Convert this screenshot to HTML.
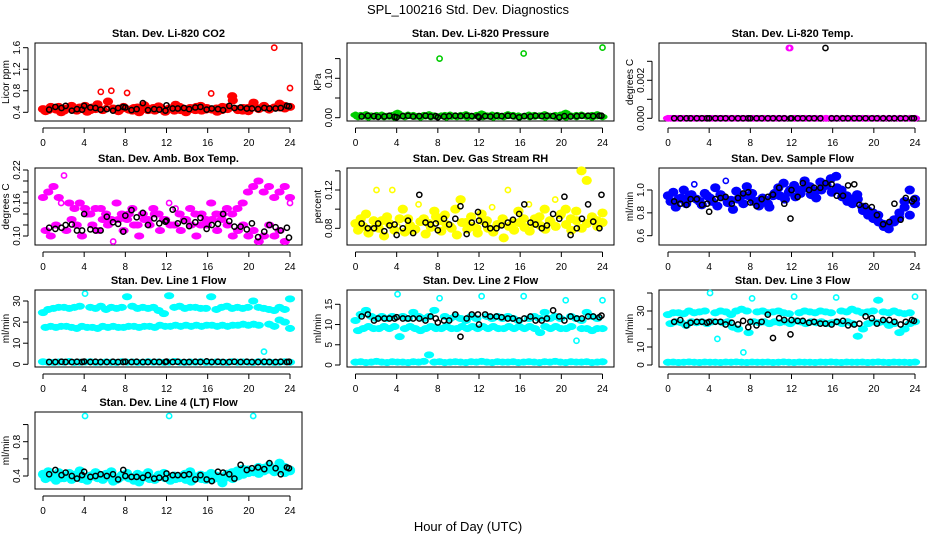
<!DOCTYPE html>
<html><head><meta charset="utf-8"><title>SPL_100216 Std. Dev. Diagnostics</title>
<style>
html,body{margin:0;padding:0;background:#fff;}
svg{display:block;font-family:"Liberation Sans",sans-serif;}
</style></head>
<body>
<svg id="chart" width="936" height="540" viewBox="0 0 936 540">
<text x="468" y="14" text-anchor="middle" font-size="13">SPL_100216  Std. Dev. Diagnostics</text>
<text x="468" y="531" text-anchor="middle" font-size="13">Hour of Day (UTC)</text>
</svg>
<script>
const xTicks=[0,4,8,12,16,20,24];
const blackHours=[0.6,1.2,1.8,2.2,2.8,3.3,3.8,4.0,4.6,5.1,5.6,6.2,6.8,7.3,7.8,8.0,8.6,9.1,9.7,10.2,10.8,11.3,11.9,12.0,12.6,13.1,13.7,14.2,14.8,15.3,15.9,16.4,17.0,17.5,18.1,18.6,19.2,19.8,20.3,20.9,21.5,22.0,22.6,23.1,23.7,23.9];

const co2A=[0.46,0.44,0.48,0.50,0.43,0.47,0.45,0.49,0.52,0.44,0.46,0.78,0.48,0.80,0.45,0.47,0.76,0.43,0.49,0.46,0.44,0.48,0.51,0.45,0.47,0.43,0.50,0.46,0.48,0.44,0.52,0.45,0.75,0.47,0.44,0.49,0.70,0.46,0.43,0.48,0.55,0.47,0.50,0.46,1.60,0.49,0.52,0.85];
const co2B=[0.42,0.50,0.45,0.40,0.47,0.52,0.43,0.46,0.41,0.49,0.55,0.44,0.60,0.47,0.42,0.50,0.45,0.48,0.40,0.53,0.46,0.43,0.49,0.41,0.47,0.54,0.44,0.40,0.46,0.50,0.43,0.48,0.45,0.41,0.50,0.46,0.62,0.44,0.48,0.42,0.58,0.46,0.52,0.45,0.49,0.56,0.47,0.50];
const co2K=[0.45,0.50,0.48,0.52,0.43,0.46,0.45,0.52,0.49,0.48,0.45,0.46,0.43,0.48,0.50,0.49,0.44,0.46,0.57,0.44,0.46,0.45,0.43,0.53,0.47,0.47,0.48,0.46,0.49,0.50,0.45,0.47,0.46,0.44,0.52,0.48,0.49,0.47,0.47,0.46,0.48,0.47,0.47,0.48,0.52,0.51];

const presA=[0.007,0.006,0.008,0.005,0.006,0.007,0.004,0.006,0.012,0.005,0.007,0.006,0.004,0.006,0.008,0.005,0.150,0.006,0.007,0.005,0.006,0.008,0.004,0.006,0.010,0.005,0.007,0.006,0.004,0.008,0.006,0.005,0.163,0.007,0.006,0.005,0.008,0.004,0.006,0.007,0.012,0.005,0.006,0.007,0.004,0.006,0.008,0.178];
const presB=[0.002,0.004,0.001,0.003,0.005,0.002,0.003,0.001,0.004,0.002,0.005,0.003,0.001,0.004,0.002,0.003,0.005,0.001,0.003,0.002,0.004,0.001,0.003,0.005,0.002,0.004,0.001,0.003,0.002,0.005,0.003,0.001,0.004,0.002,0.003,0.005,0.001,0.004,0.002,0.003,0.001,0.004,0.002,0.005,0.003,0.001,0.004,0.002];
const presK=[0.003,0.005,0.004,0.002,0.003,0.005,0.002,0.001,0.004,0.005,0.003,0.004,0.005,0.003,0.004,0.001,0.003,0.004,0.005,0.004,0.005,0.004,0.003,0.001,0.004,0.003,0.005,0.004,0.005,0.004,0.001,0.004,0.003,0.005,0.004,0.005,0.004,0.001,0.004,0.003,0.004,0.005,0.005,0.004,0.005,0.005];

const tempA=[0,0,0,0,0,0,0,0,0,0,0,0,0,0,0,0,0,0,0,0,0,0,0,0.0037,0,0,0,0,0,0,0,0,0,0,0,0,0,0,0,0,0,0,0,0,0,0,0,0];
const tempK=[0,0,0,0,0,0,0,0,0,0,0,0,0,0,0,0,0,0,0,0,0,0,0,0,0,0,0,0,0,0.0037,0,0,0,0,0,0,0,0,0,0,0,0,0,0,0,0];

const ambA=[0.17,0.18,0.19,0.17,0.21,0.16,0.15,0.16,0.15,0.14,0.15,0.15,0.14,0.13,0.16,0.14,0.13,0.15,0.12,0.14,0.13,0.15,0.14,0.13,0.16,0.12,0.14,0.13,0.15,0.14,0.12,0.13,0.16,0.14,0.13,0.15,0.14,0.15,0.16,0.18,0.19,0.20,0.18,0.19,0.17,0.18,0.19,0.17];
const ambB=[0.11,0.10,0.12,0.16,0.11,0.13,0.12,0.10,0.14,0.12,0.11,0.13,0.12,0.09,0.13,0.11,0.14,0.12,0.10,0.13,0.12,0.14,0.11,0.13,0.12,0.15,0.11,0.13,0.12,0.10,0.14,0.12,0.13,0.11,0.14,0.12,0.10,0.11,0.12,0.10,0.11,0.09,0.10,0.12,0.10,0.11,0.09,0.16];
const ambK=[0.115,0.113,0.115,0.12,0.121,0.11,0.11,0.14,0.112,0.11,0.11,0.135,0.125,0.122,0.108,0.137,0.147,0.134,0.142,0.12,0.132,0.123,0.126,0.128,0.148,0.123,0.127,0.118,0.125,0.133,0.113,0.12,0.122,0.14,0.127,0.117,0.117,0.112,0.123,0.098,0.108,0.12,0.116,0.11,0.115,0.097];

const rhA=[0.085,0.09,0.095,0.08,0.12,0.088,0.092,0.12,0.082,0.1,0.09,0.078,0.105,0.09,0.085,0.098,0.088,0.094,0.082,0.1,0.11,0.086,0.092,0.08,0.095,0.088,0.102,0.084,0.09,0.12,0.086,0.098,0.09,0.105,0.085,0.092,0.1,0.088,0.11,0.094,0.1,0.09,0.098,0.14,0.13,0.092,0.088,0.096];
const rhB=[0.078,0.082,0.075,0.088,0.08,0.072,0.085,0.078,0.09,0.076,0.083,0.079,0.087,0.074,0.081,0.092,0.077,0.084,0.08,0.073,0.086,0.079,0.082,0.075,0.088,0.08,0.076,0.084,0.07,0.082,0.078,0.086,0.081,0.077,0.09,0.083,0.079,0.087,0.082,0.095,0.084,0.078,0.088,0.08,0.085,0.09,0.082,0.086];
const rhK=[0.085,0.08,0.08,0.085,0.077,0.083,0.084,0.073,0.08,0.088,0.075,0.115,0.086,0.084,0.085,0.078,0.09,0.084,0.09,0.103,0.074,0.086,0.097,0.088,0.084,0.08,0.08,0.083,0.086,0.089,0.095,0.105,0.086,0.084,0.08,0.083,0.095,0.09,0.113,0.073,0.08,0.09,0.105,0.087,0.08,0.115];

const flowA=[0.95,0.98,0.92,1.0,0.94,1.05,0.9,0.97,0.93,1.02,0.96,1.08,0.91,0.99,0.95,1.03,0.97,0.9,0.93,0.88,0.95,1.02,1.06,0.98,1.04,1.0,1.08,1.03,0.99,1.07,1.05,1.1,1.12,1.0,0.95,0.92,0.96,0.85,0.82,0.8,0.78,0.7,0.66,0.72,0.76,0.9,1.0,0.92];
const flowB=[0.9,0.85,0.93,0.88,0.96,0.92,0.87,0.95,0.9,0.86,0.94,0.89,0.83,0.92,0.88,0.95,0.9,0.86,0.92,0.85,0.97,0.95,0.92,1.0,0.94,0.97,1.02,0.96,0.93,1.0,1.04,0.98,1.02,0.94,0.9,0.88,0.92,0.82,0.78,0.75,0.72,0.68,0.7,0.74,0.8,0.85,0.78,0.88];
const flowK=[0.9,0.88,0.87,0.92,0.92,0.87,0.88,0.81,0.92,0.93,0.94,0.88,0.93,0.97,0.98,0.89,0.86,0.92,0.94,0.96,1.02,0.88,0.75,1.0,0.94,1.06,1.0,1.02,1.02,1.06,1.05,0.95,0.95,1.04,1.05,0.87,0.86,0.85,0.78,0.7,0.72,0.88,0.74,0.93,0.9,0.92];

const l1A=[24.5,26,26.5,27,27,26.5,27,27.5,33.5,27,26.5,27.5,26,27,26.5,27,32,27.5,26.5,27,26.5,27,25.5,24,32.5,27,27.5,26.5,27,27,26.5,26.5,32,26,27,27.5,26.5,27,26.5,27,30,27,26.5,26,25.5,27,26,31];
const l1B=[17.5,18,17.5,18,18,17.5,17,18,17.5,17.5,17,18,17.5,18,17.5,17.5,18,18,17.5,18,18,17.5,18.5,18,18,18.5,18,18.5,18,18.5,18,18.5,18.5,18,18.5,18,18.5,18.5,19,18.5,19,18.5,6,19,18,21,20,17];
const l1C=[1.2,1,0.9,1.1,1,1.3,0.9,1,1.1,1.2,0.9,1,1.1,1,0.9,1.2,1,1.1,0.9,1,1.2,1,1.1,0.9,1,1.3,1,0.9,1.1,1,1.2,0.9,1,1.1,1,0.9,1.2,1,1.1,1,0.9,1.2,1,1.1,0.9,1,1.2,1];
const l1K=[1.1,1.1,1.2,1.1,1.1,1.2,1.1,1.3,1.1,1.2,1.1,1.1,1.2,1.1,1.1,1.2,1.1,1.2,1.1,1.1,1.2,1.1,1.1,1.3,1.1,1.2,1.1,1.1,1.2,1.1,1.4,1.1,1.2,1.1,1.1,1.2,1.1,1.2,1.1,1.1,1.2,1.1,1.1,1.2,1.1,1.2];

const l2A=[11,12.5,13.5,12,11.5,12,11.5,12,17.5,12,11.5,13,12,11.5,12,13.5,16.5,12,11.5,12,11.5,11,12,11.5,17,12,11.5,12,11.5,12,11.5,11,17,11.5,12,11.5,13,11.5,12,11.5,16,12,11.5,11,13,12,11.5,16];
const l2B=[8.5,9,9.5,9,9,9.5,9,9.5,7,9,9.5,9,8.5,9,9.5,9,9,9.5,9,9,9.5,9,9.5,9,9.5,9,9.5,9,9,9.5,9,9.5,9,9.5,9,8,9.5,9,9.5,9,9,9.5,6,9,9,8.5,9,9];
const l2C=[0.7,0.8,0.6,0.7,0.9,0.7,0.6,0.8,0.7,0.7,0.6,0.8,0.7,0.9,2.5,0.7,0.8,0.6,0.7,0.8,0.7,0.6,0.8,0.7,0.9,0.7,0.6,0.8,0.7,0.7,0.8,0.6,0.7,0.8,0.7,0.6,0.8,0.7,0.9,0.7,0.6,0.8,0.7,0.7,0.8,0.6,0.7,0.8];
const l2K=[12,12.5,11,11.5,11.5,11.5,11.5,11.8,11.5,11.5,11.5,11.5,11,12,11.5,10.5,11,11,12.5,7,11.5,12.5,12.5,10,12.5,12,12,11.8,11.5,11.5,11,11.5,12,11,11,11.5,13.5,12,11,12,11.5,11.5,12,12,11.8,12.2];

const l3A=[28,29,29,28.5,30,29,29.5,30,40,29,30,29.5,28,30,31,30,37,29.5,30,29,29.5,30,29,28.5,38,29,30,29.5,29,30,29.5,29,37.5,30,29.5,31,30,29,29.5,30,36,29.5,29,30,29,28.5,29,38];
const l3B=[23,24,23.5,22,24,23.5,24,23,24,14.5,23.5,24,21,20,7,18,24,23.5,24,23,24,23.5,24,23,24.5,24,23,24,23.5,24,23,23.5,24,23,24,23,16,20,23,24,23.5,24,22,23,18,20,23,24];
const l3C=[1.5,1.6,1.4,1.5,1.7,1.5,1.4,1.6,1.5,1.5,1.4,1.6,1.5,1.7,1.5,1.4,1.6,1.5,1.5,1.6,1.4,1.5,1.7,1.5,1.4,1.6,1.5,1.5,1.4,1.6,1.5,1.7,1.5,1.4,1.6,1.5,1.5,1.6,1.4,1.5,1.7,1.5,1.4,1.6,1.5,1.5,1.4,1.6];
const l3K=[24,25,22,23.5,24,24,23.5,24,24,24,22.5,23.5,22.5,24.5,21,24,22,24,28,15,26,25,17,25,24.5,24.5,23.5,24,23,23,22.5,24,24.5,22,22.5,23,27,26,23,25,25,24,22.5,24,25,24.5];

const l4A=[0.42,0.45,0.40,0.44,0.38,0.43,0.41,0.46,1.1,0.40,0.44,0.39,0.42,0.45,0.36,0.41,0.43,0.38,0.42,0.40,0.44,0.37,0.41,0.43,1.1,0.40,0.38,0.42,0.45,0.39,0.41,0.36,0.43,0.40,0.38,0.42,0.44,0.46,0.48,0.47,1.1,0.50,0.49,0.52,0.48,0.55,0.50,0.47];
const l4B=[0.37,0.39,0.35,0.38,0.40,0.36,0.39,0.37,0.35,0.40,0.38,0.36,0.39,0.34,0.37,0.40,0.38,0.35,0.33,0.39,0.37,0.36,0.40,0.38,0.35,0.37,0.39,0.36,0.34,0.38,0.37,0.40,0.36,0.38,0.32,0.39,0.37,0.40,0.42,0.44,0.45,0.43,0.46,0.48,0.45,0.47,0.44,0.46];
const l4K=[0.42,0.47,0.41,0.44,0.4,0.37,0.41,0.45,0.39,0.4,0.42,0.4,0.42,0.36,0.47,0.4,0.39,0.39,0.38,0.41,0.37,0.38,0.37,0.43,0.41,0.41,0.41,0.42,0.36,0.41,0.36,0.34,0.45,0.44,0.42,0.37,0.53,0.47,0.49,0.5,0.48,0.55,0.49,0.42,0.5,0.49];

const NS='http://www.w3.org/2000/svg';
const svg=document.getElementById('chart');
const rows=[[43,121],[168,245],[290,367],[412,489]];
function mk(tag,attrs,parent){const e=document.createElementNS(NS,tag);for(const k in attrs)e.setAttribute(k,attrs[k]);(parent||svg).appendChild(e);return e;}

const panels=[
 {t:'Stan. Dev. Li-820 CO2',yl:'Licor ppm',c:0,r:0,map:[0.4,112.3,1.6,47.7],ticks:[0.4,0.8,1.2,1.6],labs:['0.4','0.8','1.2','1.6'],col:'#ff0000',bw:4,s:[co2A,co2B],k:co2K},
 {t:'Stan. Dev. Li-820 Pressure',yl:'kPa',c:1,r:0,map:[0,117.7,0.1,78.3],ticks:[0,0.05,0.1,0.15],labs:['0.00','','0.10',''],col:'#00cc00',bw:3,s:[presA,presB],k:presK},
 {t:'Stan. Dev. Li-820 Temp.',yl:'degrees C',c:2,r:0,map:[0,118.3,0.002,80.3],ticks:[0,0.001,0.002,0.003],labs:['0.000','','0.002',''],col:'#ff00ff',bw:3,s:[tempA,tempA],k:tempK},
 {t:'Stan. Dev. Amb. Box Temp.',yl:'degrees C',c:0,r:1,map:[0.1,236,0.22,170],ticks:[0.1,0.12,0.14,0.16,0.18,0.2,0.22],labs:['0.10','','','0.16','','','0.22'],col:'#ff00ff',bw:3.5,s:[ambA,ambB],k:ambK},
 {t:'Stan. Dev. Gas Stream RH',yl:'percent',c:1,r:1,map:[0.08,228.3,0.12,190],ticks:[0.08,0.1,0.12,0.14],labs:['0.08','','0.12',''],col:'#ffff00',bw:4.5,s:[rhA,rhB],k:rhK},
 {t:'Stan. Dev. Sample Flow',yl:'ml/min',c:2,r:1,map:[0.6,235.7,1.0,190],ticks:[0.6,0.8,1.0],labs:['0.6','0.8','1.0'],col:'#0000ff',bw:4.5,s:[flowA,flowB],k:flowK},
 {t:'Stan. Dev. Line 1 Flow',yl:'ml/min',c:0,r:2,map:[0,364.3,30,301],ticks:[0,10,20,30],labs:['0','10','20','30'],col:'#00ffff',bw:3.5,s:[l1A,l1B,l1C],k:l1K},
 {t:'Stan. Dev. Line 2 Flow',yl:'ml/min',c:1,r:2,map:[0,365,15,304.3],ticks:[0,5,10,15],labs:['0','5','10','15'],col:'#00ffff',bw:3.5,s:[l2A,l2B,l2C],k:l2K},
 {t:'Stan. Dev. Line 3 Flow',yl:'ml/min',c:2,r:2,map:[0,365,30,311],ticks:[0,10,20,30,40],labs:['0','10','','30',''],col:'#00ffff',bw:3.5,s:[l3A,l3B,l3C],k:l3K},
 {t:'Stan. Dev. Line 4 (LT) Flow',yl:'ml/min',c:0,r:3,map:[0.4,476,0.8,441.7],ticks:[0.4,0.6,0.8,1.0],labs:['0.4','','0.8',''],col:'#00ffff',bw:4.5,s:[l4A,l4B],k:l4K}
];

panels.forEach((p,pi)=>{
 const g=mk('g',{});
 
 
 const L=35+312*p.c,R=302+312*p.c,T=rows[p.r][0],B=rows[p.r][1];
 const x0=43+312.5*p.c,x24=290+312.5*p.c;
 const xs=h=>x0+(x24-x0)*h/24;
 const ys=v=>p.map[1]+(v-p.map[0])*(p.map[3]-p.map[1])/(p.map[2]-p.map[0]);
 const cx=(L+R)/2;
 const tt=mk('text',{x:cx,y:T-6,'text-anchor':'middle','font-size':11,'font-weight':'bold'},g);tt.textContent=p.t;
 
 
 const box=mk('rect',{x:L,y:T,width:R-L,height:B-T,fill:'none',stroke:'#000','stroke-width':1},g);
 
 
 const ax=mk('line',{x1:xs(0),x2:xs(24),y1:B+7,y2:B+7,stroke:'#000'},g);
 
 
 xTicks.forEach(h=>{
  mk('line',{x1:xs(h),x2:xs(h),y1:B+7,y2:B+12,stroke:'#000'},g);
  const tx=mk('text',{x:xs(h),y:B+25,'text-anchor':'middle','font-size':10},g);tx.textContent=h;
  
  
 });
 const yt=p.ticks;
 const ay=mk('line',{x1:L-7,x2:L-7,y1:ys(yt[0]),y2:ys(yt[yt.length-1]),stroke:'#000'},g);
 
 
 yt.forEach((v,i)=>{
  const y=ys(v);
  mk('line',{x1:L-12,x2:L-7,y1:y,y2:y,stroke:'#000'},g);
  if(p.labs[i]){
   const t=mk('text',{x:L-15,y:y,'text-anchor':'middle','font-size':10,transform:`rotate(-90 ${L-15} ${y})`},g);t.textContent=p.labs[i];
   
   
  }
 });
 const yl=mk('text',{x:L-26,y:(T+B)/2,'text-anchor':'middle','font-size':10,transform:`rotate(-90 ${L-26} ${(T+B)/2})`},g);yl.textContent=p.yl;
 
 
 // dense bands (fill under each non-outlier point)
 p.s.forEach((arr,si)=>{
  const off=si===1?0.25:0;
  const hx=i=>xs(off+i*(24-off)/(arr.length-1));
  arr.forEach((v,i)=>{
   const y=ys(v);
   const yp=i>0?ys(arr[i-1]):ys(arr[i+1]);
   const yn=i<arr.length-1?ys(arr[i+1]):ys(arr[i-1]);
   if(Math.abs(y-yp)>12&&Math.abs(y-yn)>12)return;
   const e=mk('ellipse',{cx:hx(i),cy:y,rx:(hx(1)-hx(0))/2+2.5,ry:p.bw,fill:p.col},g);
   
   
  });
 });
 p.s.forEach((arr,si)=>{
  const off=si===1?0.25:0;
  arr.forEach((v,i)=>{
   const h=off+i*(24-off)/(arr.length-1);
   const c=mk('circle',{cx:xs(h),cy:ys(v),r:2.6,fill:'none',stroke:p.col,'stroke-width':1.6},g);
   
   
  });
 });
 const n=Math.min(blackHours.length,p.k.length);
 for(let i=0;i<n;i++){
  const c=mk('circle',{cx:xs(blackHours[i]),cy:ys(p.k[i]),r:2.6,fill:'none',stroke:'#000','stroke-width':1.5},g);
  
  
 }
});
</script>
</body></html>
